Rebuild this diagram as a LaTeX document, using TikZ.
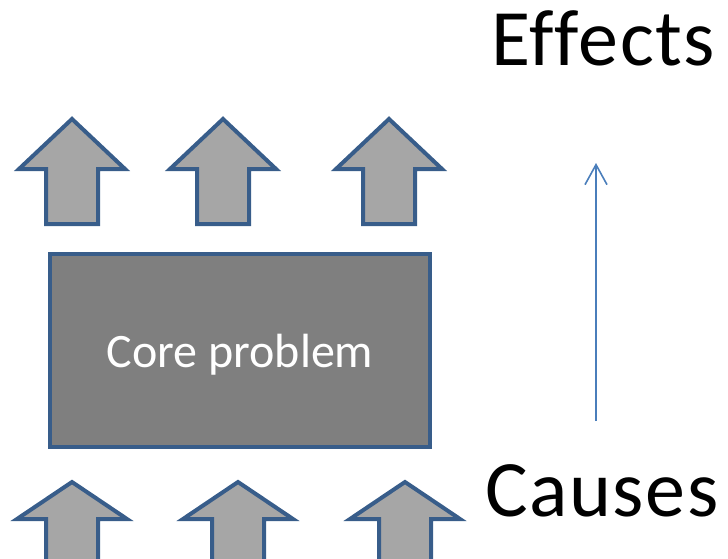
\documentclass[tikz,border=0pt]{standalone}
\usepackage{fontspec}
\setmainfont{Carlito}[Ligatures=CommonOff]
\usetikzlibrary{arrows.meta}
\definecolor{edgeblue}{HTML}{385D8A}
\definecolor{linkblue}{HTML}{4A7EBB}
\definecolor{arrowgray}{HTML}{A6A6A6}
\definecolor{coregray}{HTML}{7F7F7F}
\tikzset{
  blockarrow/.style={draw=edgeblue, fill=arrowgray, line width=4pt, line join=miter},
  corebox/.style={draw=edgeblue, fill=coregray, line width=4pt, minimum width=380pt,
    minimum height=193pt, inner sep=0pt},
  coretext/.style={anchor=base, inner sep=0pt, text=white, font=\fontsize{48}{56}\selectfont},
  biglabel/.style={anchor=base west, inner sep=0pt,
    font=\fontsize{80}{96}\selectfont\addfontfeature{LetterSpace=2}},
  flow/.style={draw=linkblue, line width=1.6pt, -{Straight Barb[length=20pt,width=22pt,line width=1.6pt]}}
}
% block arrow: centre x, tip y, head base y, bottom y, head half width, shaft half width
\newcommand\blockup[6]{%
  \path[blockarrow] (#1,#2) -- (#1+#5,#3) -- (#1+#6,#3) -- (#1+#6,#4)
    -- (#1-#6,#4) -- (#1-#6,#3) -- (#1-#5,#3) -- cycle;}
\begin{document}
\begin{tikzpicture}[x=1pt,y=-1pt]
  \useasboundingbox (0,0) rectangle (728,559);
  % effects row
  \blockup{72}{119}{169}{224}{53}{26}
  \blockup{223}{119}{169}{224}{53}{26}
  \blockup{389}{119}{169}{224}{53}{26}
  % causes row
  \blockup{72}{482}{519}{575}{55}{26}
  \blockup{238}{482}{519}{575}{55}{26}
  \blockup{405}{482}{519}{575}{55}{26}
  % core problem box
  \node[corebox] (core) at (240,350.5) {};
  \node[coretext] (coretitle) at (240,367) {Core problem};
  % labels
  \node[biglabel] (effects) at (491,66) {Effects};
  \node[biglabel] (causes) at (485,516) {Causes};
  % direction of causality
  \coordinate (flowstart) at (596,421);
  \coordinate (flowend) at (596,163);
  \draw[flow] (flowstart) -- (flowend);
\end{tikzpicture}
\end{document}
